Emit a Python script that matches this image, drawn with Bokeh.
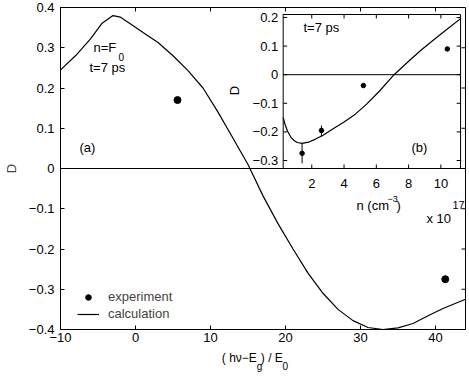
import numpy as np
from bokeh.plotting import figure
from bokeh.models import (Range1d, LinearAxis, FixedTicker, CustomJSTickFormatter,
                          Label, Legend, LegendItem, Span)
from bokeh.embed import file_html
from bokeh.resources import INLINE
from bokeh.core.properties import value

FONT = "Liberation Sans"

# ---------------- data ----------------
main_x_ticks = [-10, 0, 10, 20, 30, 40]
main_y_ticks = [-0.4, -0.3, -0.2, -0.1, 0.0, 0.1, 0.2, 0.3, 0.4]

calc_x = [-10, -8, -6, -4.5, -3, -2, -0.5, 1, 3, 5, 7, 9, 11, 13, 15, 17, 19,
          21, 23, 25, 27, 29, 31, 33, 35, 37, 39, 41, 44]
calc_D = [0.245, 0.28, 0.322, 0.36, 0.38, 0.376, 0.357, 0.338, 0.313, 0.28,
          0.243, 0.2, 0.14, 0.075, 0.01, -0.068, -0.137, -0.2, -0.26, -0.31,
          -0.35, -0.378, -0.395, -0.4, -0.396, -0.385, -0.366, -0.348, -0.325]

exp_x = [5.6, 41.3]
exp_D = [0.17, -0.275]

inset_n_ticks = [2, 4, 6, 8, 10]
inset_n_labels = ["2", "4", "6", "8", "10"]
inset_D_ticks = [0.2, 0.1, 0.0, -0.1, -0.2, -0.3]
inset_D_labels = ["0.2", "0.1", "0", "\u22120.1", "\u22120.2", "\u22120.3"]

inset_calc_n = [0.23, 0.35, 0.5, 0.7, 0.9, 1.1, 1.4, 1.8, 2.2, 2.7, 3.3, 4.0,
                4.7, 5.4, 6.2, 7.1, 8.0, 8.8, 9.6, 10.4, 11.22]
inset_calc_D = [-0.15, -0.175, -0.198, -0.218, -0.23, -0.237, -0.24, -0.236,
                -0.226, -0.212, -0.19, -0.165, -0.138, -0.103, -0.057, 0.0,
                0.047, 0.087, 0.124, 0.16, 0.196]

inset_exp_n = [1.4, 2.6, 5.2, 10.4]
inset_exp_D = [-0.275, -0.195, -0.038, 0.09]
inset_exp_lo = [-0.31, -0.216, -0.038, 0.09]
inset_exp_hi = [-0.24, -0.178, -0.038, 0.09]

xlabel_parts = ["( h\u03bd\u2212E", ") / E"]
xlabel_subs = ["g", "0"]

# ---------------- layout ----------------
X0, X1 = -10, 44
Y0, Y1 = -0.4, 0.4
IX0, IX1 = 0.23, 11.22
IY0, IY1 = -0.328, 0.2105

W, H = 469, 376
BL, BR, BT, BB = 54, 4, 7, 47
FW = W - BL - BR
FH = H - BT - BB
# inset box in frame pixels (from frame left / frame top)
IL, IR, IT, IB = 226, 406, 7, 161

px_x = FW / (X1 - X0)
px_y = FH / (Y1 - Y0)
sx = (IR - IL) / (IX1 - IX0)
sy = (IB - IT) / (IY1 - IY0)
ix_start = IX0 - IL / sx
ix_end = IX0 + (FW - IL) / sx
iy_end = IY1 + IT / sy
iy_start = IY0 - (FH - IB) / sy


def px2x(X):
    return X0 + (X - BL) / px_x


p = figure(width=W, height=H, x_range=Range1d(X0, X1), y_range=Range1d(Y0, Y1),
           output_backend="svg", toolbar_location=None,
           min_border_left=BL, min_border_right=BR, min_border_top=BT,
           min_border_bottom=BB)
p.extra_x_ranges = {"ix": Range1d(ix_start, ix_end)}
p.extra_y_ranges = {"iy": Range1d(iy_start, iy_end)}
p.grid.visible = False
p.outline_line_color = "black"
p.outline_line_alpha = 1.0
p.background_fill_color = "white"
p.border_fill_color = "white"


def style_axis(ax, ticks, standoff):
    ax.ticker = FixedTicker(ticks=ticks)
    ax.major_tick_in = 4
    ax.major_tick_out = 0
    ax.minor_tick_line_color = None
    ax.axis_line_color = "black"
    ax.major_tick_line_color = "black"
    ax.major_label_text_font = FONT
    ax.major_label_text_color = "black"
    ax.major_label_text_font_size = "13px"
    ax.major_label_standoff = standoff


xa = p.xaxis[0]
ya = p.yaxis[0]
style_axis(xa, main_x_ticks, 3)
style_axis(ya, main_y_ticks, 6)
xa.formatter = CustomJSTickFormatter(code="return tick.toFixed(0).replace('-', '\\u2212');")
ya.formatter = CustomJSTickFormatter(
    code="return Math.abs(tick) < 1e-9 ? '0' : tick.toFixed(1).replace('-', '\\u2212');")
ya.axis_label = "D"
ya.axis_label_text_font = FONT
ya.axis_label_text_font_size = "13px"
ya.axis_label_text_font_style = "normal"
ya.axis_label_standoff = 7

# x-axis title in two rows of labels (main text, then subscripts)
lab_fmt = "return labels[index];"
xl_main = LinearAxis(ticker=FixedTicker(ticks=[px2x(235.5), px2x(268.5)]),
                     formatter=CustomJSTickFormatter(code=lab_fmt,
                                                     args=dict(labels=xlabel_parts)))
xl_sub = LinearAxis(ticker=FixedTicker(ticks=[px2x(256), px2x(282)]),
                    formatter=CustomJSTickFormatter(code=lab_fmt,
                                                    args=dict(labels=xlabel_subs)))
for ax, fs, so in ((xl_main, "12px", 6), (xl_sub, "10px", -7)):
    ax.axis_line_color = None
    ax.major_tick_line_color = None
    ax.minor_tick_line_color = None
    ax.major_tick_in = 0
    ax.major_tick_out = 0
    ax.major_label_text_font = FONT
    ax.major_label_text_font_size = fs
    ax.major_label_text_color = "black"
    ax.major_label_standoff = so
    p.add_layout(ax, "below")

# top / right tick marks of the main frame
tl = 4.0
p.segment(x0=main_x_ticks, y0=[Y1] * len(main_x_ticks), x1=main_x_ticks,
          y1=[Y1 - tl / px_y] * len(main_x_ticks), line_color="black")
p.segment(x0=[X1] * len(main_y_ticks), y0=main_y_ticks,
          x1=[X1 - tl / px_x] * len(main_y_ticks), y1=main_y_ticks,
          line_color="black")

# zero line main
p.add_layout(Span(location=0, dimension="width", line_color="black",
                  line_width=1, level="underlay"))

calc_r = p.line(calc_x, calc_D, line_color="black", line_width=1.2)
exp_r = p.scatter(exp_x, exp_D, size=7, color="black")

# ---------------- inset ----------------
R = dict(x_range_name="ix", y_range_name="iy")
p.quad(left=IX0, right=IX1, bottom=IY0, top=IY1, fill_color="white",
       line_color="black", line_width=1, **R)
p.line([IX0, IX1], [0, 0], line_color="black", line_width=1, **R)
p.line(inset_calc_n, inset_calc_D, line_color="black", line_width=1.2, **R)
p.segment(x0=inset_exp_n, y0=inset_exp_lo, x1=inset_exp_n, y1=inset_exp_hi,
          line_color="black", line_width=1, **R)
p.scatter(inset_exp_n, inset_exp_D, size=4.5, color="black", **R)

p.segment(x0=inset_n_ticks, y0=[IY0] * len(inset_n_ticks), x1=inset_n_ticks,
          y1=[IY0 + tl / sy] * len(inset_n_ticks), line_color="black", **R)
p.segment(x0=inset_n_ticks, y0=[IY1] * len(inset_n_ticks), x1=inset_n_ticks,
          y1=[IY1 - tl / sy] * len(inset_n_ticks), line_color="black", **R)
p.segment(x0=[IX0] * len(inset_D_ticks), y0=inset_D_ticks,
          x1=[IX0 + tl / sx] * len(inset_D_ticks), y1=inset_D_ticks,
          line_color="black", **R)
p.segment(x0=[IX1] * len(inset_D_ticks), y0=inset_D_ticks,
          x1=[IX1 - tl / sx] * len(inset_D_ticks), y1=inset_D_ticks,
          line_color="black", **R)

p.text(x=[IX0] * len(inset_D_ticks), y=inset_D_ticks, text=inset_D_labels,
       x_offset=-5, text_align="right", text_baseline="middle",
       text_font=value(FONT), text_font_size="13px", text_color="black", **R)
p.text(x=inset_n_ticks, y=[IY0] * len(inset_n_ticks), text=inset_n_labels,
       y_offset=15, text_align="center", text_baseline="middle",
       text_font=value(FONT), text_font_size="13px", text_color="black", **R)

# ---------------- legend ----------------
legend = Legend(items=[LegendItem(label="experiment", renderers=[exp_r]),
                       LegendItem(label="calculation", renderers=[calc_r])],
                location=(17, 8), glyph_width=22, glyph_height=14,
                label_height=14, label_standoff=9, spacing=2, padding=0,
                margin=0, border_line_color=None, background_fill_alpha=0,
                label_text_font=FONT, label_text_font_size="13px")
p.add_layout(legend)

# ---------------- texts (page px positions) ----------------
FB_IMG = BT + FH  # frame bottom in page pixels


def add_text(txt, X, Y, size, align="left", angle=0.0):
    p.add_layout(Label(x=X - BL, y=FB_IMG - Y, x_units="screen",
                       y_units="screen", text=txt, text_font=FONT,
                       text_font_size=f"{size}px", text_align=align,
                       text_baseline="middle", text_color="black", angle=angle))


add_text("n=F", 87, 47, 13)
add_text("0", 112, 56, 10)
add_text("t=7 ps", 83, 67, 13)
add_text("(a)", 73, 147, 13)
add_text("t=7 ps", 297, 27, 13)
add_text("(b)", 405, 147, 13)
add_text("n (cm", 350, 205, 13)
add_text("\u22123", 381, 198, 9)
add_text(")", 390, 205, 13)
add_text("x 10", 420, 218, 13)
add_text("17", 446, 204, 11)
add_text("D", 228, 90, 13, "center", np.pi / 2)

open("out.html", "w", encoding="utf-8").write(file_html(p, INLINE))
